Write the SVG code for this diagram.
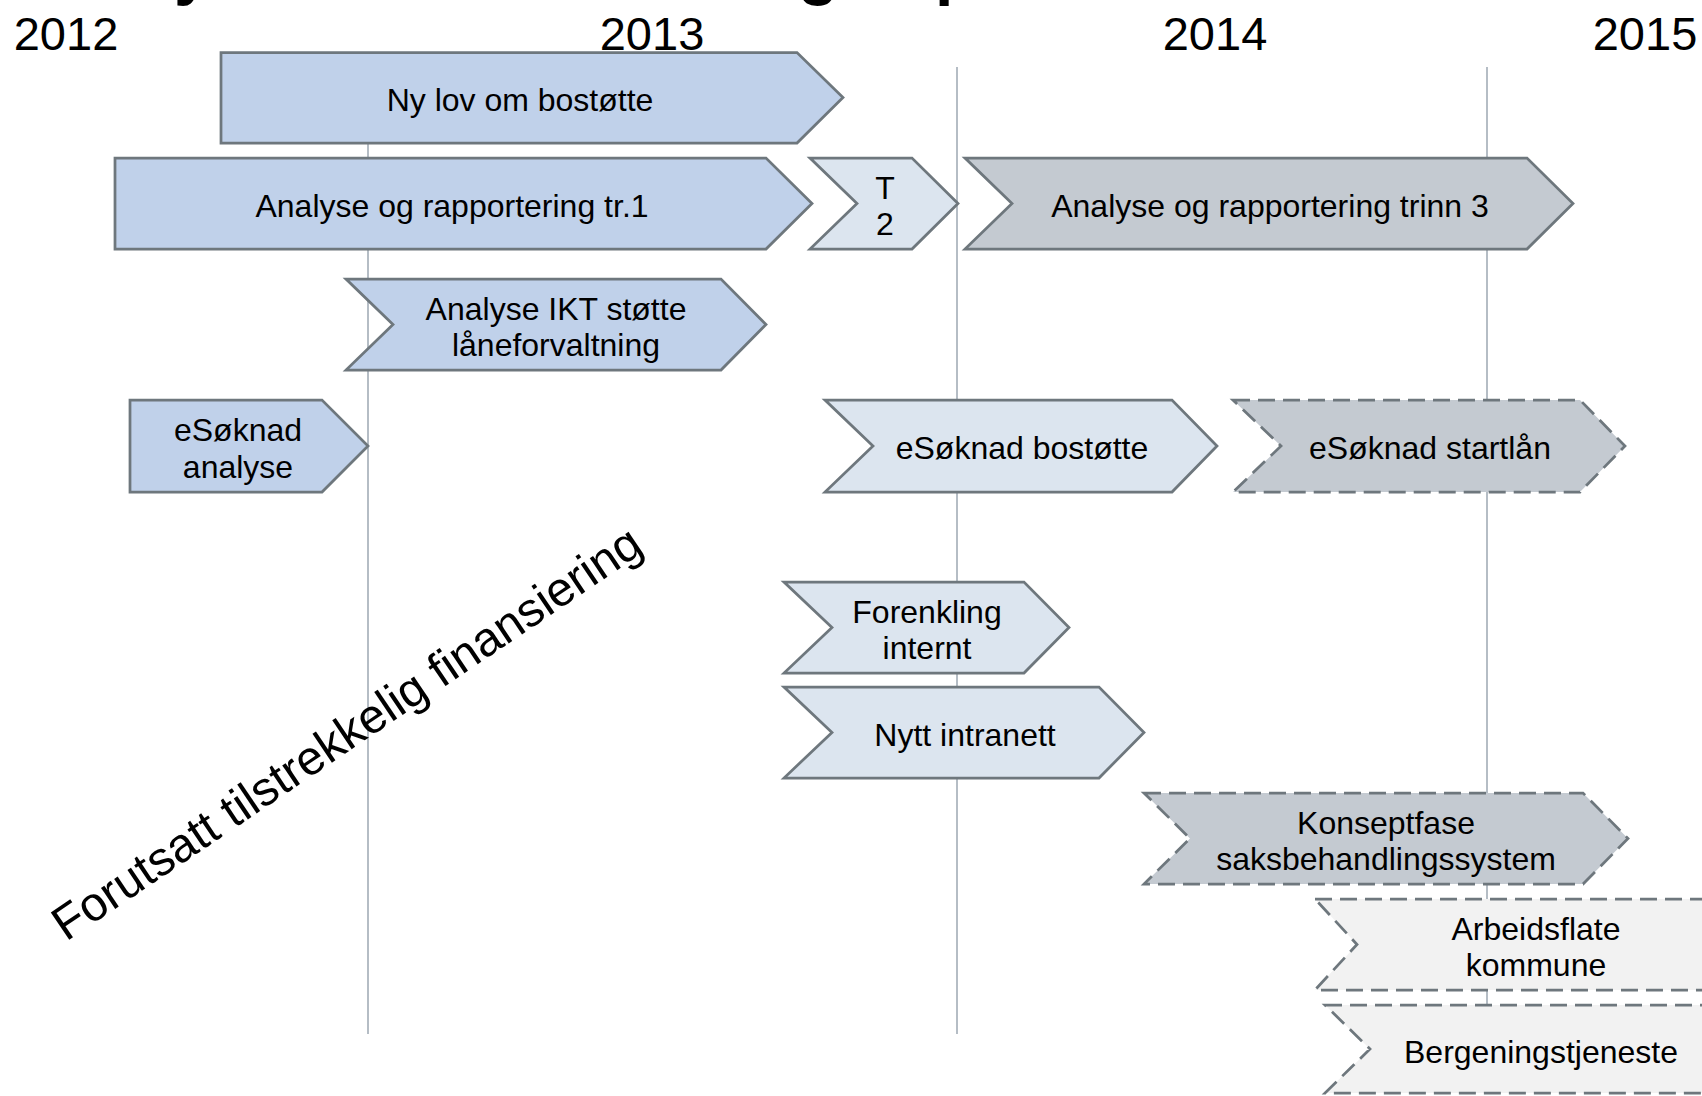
<svg xmlns="http://www.w3.org/2000/svg" width="1702" height="1096" viewBox="0 0 1702 1096">
<style>
text{font-family:"Liberation Sans",Arial,sans-serif;fill:#000}
.lbl{font-size:32px;text-anchor:middle}
.yr{font-size:47px;text-anchor:middle}
.ttl{font-size:66px;font-weight:bold}
.grid{stroke:#a3adb7;stroke-width:1.6;fill:none}
.s{stroke:#6e777d;stroke-width:2.75;stroke-linejoin:miter}
.d{stroke-dasharray:17 8}
.blue{fill:#c0d1ea}
.light{fill:#dce5ef}
.gray{fill:#c4cad1}
.pale{fill:#f2f2f2}
</style>
<rect width="1702" height="1096" fill="#fff"/>
<g id="title"><text class="ttl" x="174" y="-8">y</text><text class="ttl" x="798" y="-8">g</text><text class="ttl" x="935" y="-8">p</text></g>
<g id="years">
<text class="yr" x="66" y="50">2012</text>
<text class="yr" x="652" y="50">2013</text>
<text class="yr" x="1215" y="50">2014</text>
<text class="yr" x="1645" y="50">2015</text>
</g>
<g id="connectors">
<line class="grid" x1="368" y1="67" x2="368" y2="1034"/>
<line class="grid" x1="957" y1="67" x2="957" y2="1034"/>
<line class="grid" x1="1487" y1="67" x2="1487" y2="1034"/>
</g>
<g id="ny-lov"><path class="s blue" d="M221 52.5H797L843 97.5L797 143H221Z"/><text class="lbl" x="520" y="111">Ny lov om bostøtte</text></g>
<g id="analyse-tr1"><path class="s blue" d="M115 158H766L812 203.5L766 249H115Z"/><text class="lbl" x="452" y="216.5">Analyse og rapportering tr.1</text></g>
<g id="t2"><path class="s light" d="M810 158H912L958 203.5L912 249H810L857 203.5Z"/><text class="lbl" x="885" y="198.5">T</text><text class="lbl" x="885" y="235">2</text></g>
<g id="analyse-trinn3"><path class="s gray" d="M965 158H1527L1573 203.5L1527 249H965L1012 203.5Z"/><text class="lbl" x="1270" y="216.5">Analyse og rapportering trinn 3</text></g>
<g id="analyse-ikt"><path class="s blue" d="M346 279H721L766 324.5L721 370H346L393 324.5Z"/><text class="lbl" x="556" y="319.5">Analyse IKT støtte</text><text class="lbl" x="556" y="356">låneforvaltning</text></g>
<g id="esoknad-analyse"><path class="s blue" d="M130 400H322L368 446L322 492H130Z"/><text class="lbl" x="238" y="441">eSøknad</text><text class="lbl" x="238" y="477.5">analyse</text></g>
<g id="esoknad-bostotte"><path class="s light" d="M825 400H1172L1217 446L1172 492H825L873 446Z"/><text class="lbl" x="1022" y="459">eSøknad bostøtte</text></g>
<g id="esoknad-startlan"><path class="s d gray" d="M1233 400H1580L1625 446L1580 492H1233L1281 446Z"/><text class="lbl" x="1430" y="459">eSøknad startlån</text></g>
<g id="diagonal"><text transform="translate(66 942) rotate(-34)" style="font-size:48px">Forutsatt tilstrekkelig finansiering</text></g>
<g id="forenkling"><path class="s light" d="M784 582H1024L1069 627.5L1024 673H784L832 627.5Z"/><text class="lbl" x="927" y="622.5">Forenkling</text><text class="lbl" x="927" y="659">internt</text></g>
<g id="intranett"><path class="s light" d="M784 687H1099L1144 732.5L1099 778H784L832 732.5Z"/><text class="lbl" x="965" y="745.5">Nytt intranett</text></g>
<g id="konseptfase"><path class="s d gray" d="M1144 793H1583L1628 838.5L1583 884H1144L1190 838.5Z"/><text class="lbl" x="1386" y="833.5">Konseptfase</text><text class="lbl" x="1386" y="870">saksbehandlingssystem</text></g>
<g id="arbeidsflate"><path class="s d pale" d="M1315 899H1800L1845 944.5L1800 990H1315L1357 944.5Z"/><text class="lbl" x="1536" y="939.5">Arbeidsflate</text><text class="lbl" x="1536" y="975.5">kommune</text></g>
<g id="bergening"><path class="s d pale" d="M1325 1005H1800L1845 1049L1800 1093H1325L1370 1049Z"/><text class="lbl" x="1541" y="1062.5">Bergeningstjeneste</text></g>
</svg>
